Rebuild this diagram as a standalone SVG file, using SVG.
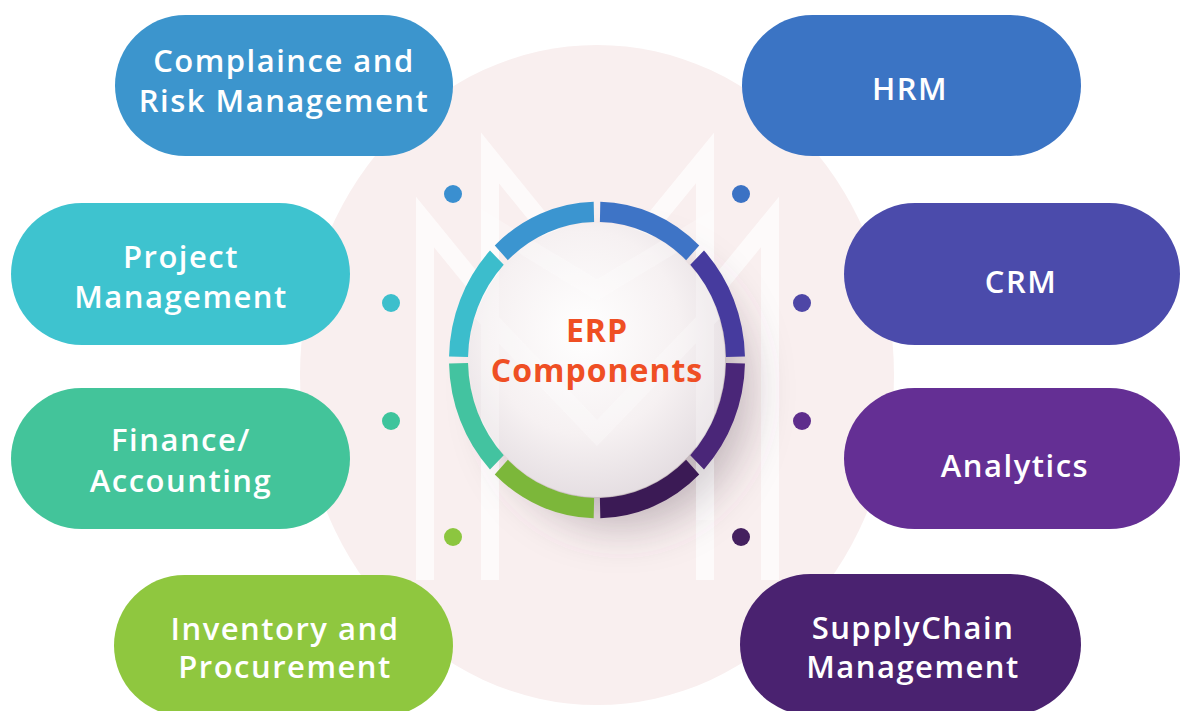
<svg xmlns="http://www.w3.org/2000/svg" width="1180" height="711" viewBox="0 0 1180 711">
  <defs>
    <style>
      .pill-text { font-family: "Open Sans", "Liberation Sans", sans-serif; font-weight: 600; font-size: 31px; letter-spacing: 1.5px; fill: #ffffff; text-anchor: middle; }
      .center-text { font-family: "Open Sans", "Liberation Sans", sans-serif; font-weight: 700; font-size: 32px; letter-spacing: 1px; fill: #ef4f24; text-anchor: middle; }
      .dot { stroke: none; }
      .seg { fill: none; stroke-width: 19; stroke-dasharray: 42.4 317.6; }
      .mark { fill: none; stroke: #ffffff; stroke-width: 18; stroke-linejoin: miter; }
    </style>
    <radialGradient id="btnGrad" cx="0.45" cy="0.4" r="0.62">
      <stop offset="0" stop-color="#ffffff"/>
      <stop offset="0.6" stop-color="#f6f1f2"/>
      <stop offset="1" stop-color="#e4dde1"/>
    </radialGradient>
    <filter id="btnShadow" x="-40%" y="-40%" width="190%" height="190%">
      <feDropShadow dx="24" dy="30" stdDeviation="22" flood-color="#5a4a58" flood-opacity="0.35"/>
    </filter>
  </defs>

  <rect x="0" y="0" width="1180" height="711" fill="#ffffff"/>

  <!-- background pale circle -->
  <ellipse cx="597" cy="375" rx="297" ry="330" fill="#f9efef"/>

  <!-- watermark M -->
  <g id="watermark" opacity="0.7">
    <path class="mark" d="M425,580 L425,222 L597,433 L770,222 L770,580"/>
    <path class="mark" d="M490,580 L490,158 L597,290 L705,158 L705,580"/>
  </g>

  <!-- connectors (dots) -->
  <g id="connectors">
    <circle class="dot" cx="453" cy="194" r="9" fill="#3a8fd0"/>
    <circle class="dot" cx="391" cy="303" r="9" fill="#3dbfcc"/>
    <circle class="dot" cx="391" cy="421" r="9" fill="#3ec49c"/>
    <circle class="dot" cx="453" cy="537" r="9" fill="#8cc63f"/>
    <circle class="dot" cx="741" cy="194" r="9" fill="#3b72c4"/>
    <circle class="dot" cx="802" cy="303" r="9" fill="#4e46a6"/>
    <circle class="dot" cx="802" cy="421" r="9" fill="#5e2d8c"/>
    <circle class="dot" cx="741" cy="537" r="9" fill="#44205f"/>
  </g>

  <!-- center hub -->
  <g id="erp-components">
    <ellipse cx="597" cy="360" rx="128" ry="137" fill="url(#btnGrad)" filter="url(#btnShadow)"/>
    <g opacity="0.28">
      <path class="mark" d="M490,520 L490,225 L597,290 L705,225 L705,520"/>
      <path class="mark" d="M470,300 L597,433 L725,300"/>
    </g>
    <g transform="translate(597,360) scale(1,1.07) rotate(-90)">
      <circle class="seg" r="138.5" pathLength="360" stroke="#3e74c6" stroke-dashoffset="-1.3"/>
      <circle class="seg" r="138.5" pathLength="360" stroke="#463b9e" stroke-dashoffset="-46.3"/>
      <circle class="seg" r="138.5" pathLength="360" stroke="#4a2678" stroke-dashoffset="-91.3"/>
      <circle class="seg" r="138.5" pathLength="360" stroke="#3b1a55" stroke-dashoffset="-136.3"/>
      <circle class="seg" r="138.5" pathLength="360" stroke="#7cb73a" stroke-dashoffset="-181.3"/>
      <circle class="seg" r="138.5" pathLength="360" stroke="#43c3a0" stroke-dashoffset="-226.3"/>
      <circle class="seg" r="138.5" pathLength="360" stroke="#3cbdcc" stroke-dashoffset="-271.3"/>
      <circle class="seg" r="138.5" pathLength="360" stroke="#3b95d0" stroke-dashoffset="-316.3"/>
    </g>
    <text class="center-text" x="597" y="342">ERP</text>
    <text class="center-text" x="597" y="382">Components</text>
  </g>

  <!-- pills -->
  <g id="compliance">
    <rect x="115" y="15" width="338" height="141" rx="70.5" fill="#3c95cd"/>
    <text class="pill-text" x="284" y="72">Complaince and</text>
    <text class="pill-text" x="284" y="112">Risk Management</text>
  </g>
  <g id="hrm">
    <rect x="742" y="15" width="339" height="141" rx="70.5" fill="#3b74c4"/>
    <text class="pill-text" x="910" y="100">HRM</text>
  </g>
  <g id="project-management">
    <rect x="11" y="203" width="339" height="142" rx="71" fill="#3ec3cf"/>
    <text class="pill-text" x="181" y="268">Project</text>
    <text class="pill-text" x="181" y="308">Management</text>
  </g>
  <g id="crm">
    <rect x="844" y="203" width="336" height="142" rx="71" fill="#4b4bab"/>
    <text class="pill-text" x="1021" y="293">CRM</text>
  </g>
  <g id="finance">
    <rect x="11" y="388" width="339" height="141" rx="70.5" fill="#43c49a"/>
    <text class="pill-text" x="181" y="451">Finance/</text>
    <text class="pill-text" x="181" y="492">Accounting</text>
  </g>
  <g id="analytics">
    <rect x="844" y="388" width="336" height="141" rx="70.5" fill="#642f94"/>
    <text class="pill-text" x="1015" y="477">Analytics</text>
  </g>
  <g id="inventory">
    <rect x="114" y="575" width="339" height="141" rx="70.5" fill="#8fc73f"/>
    <text class="pill-text" x="285" y="640">Inventory and</text>
    <text class="pill-text" x="285" y="678">Procurement</text>
  </g>
  <g id="supply-chain">
    <rect x="740" y="574" width="341" height="141" rx="70.5" fill="#4a2270"/>
    <text class="pill-text" x="913" y="639">SupplyChain</text>
    <text class="pill-text" x="913" y="678">Management</text>
  </g>
</svg>
